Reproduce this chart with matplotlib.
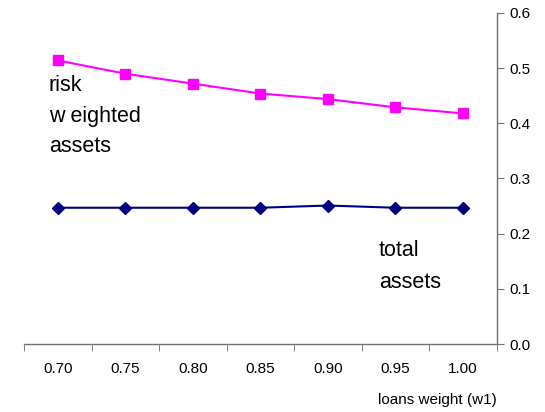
import matplotlib
matplotlib.use("Agg")
import matplotlib.pyplot as plt
import numpy as np

plt.rcParams['font.family'] = ['Liberation Sans', 'DejaVu Sans']

categories = ["0.70", "0.75", "0.80", "0.85", "0.90", "0.95", "1.00"]
risk_weighted = [0.514, 0.490, 0.472, 0.454, 0.444, 0.429, 0.418]
total_assets = [0.247, 0.247, 0.247, 0.247, 0.251, 0.247, 0.247]
y_ticks = [0.0, 0.1, 0.2, 0.3, 0.4, 0.5, 0.6]
label_risk = ["risk", "w eighted", "assets"]
label_total = ["total", "assets"]

fig = plt.figure(figsize=(5.45, 4.12), dpi=100)
ax = fig.add_axes([24/545, 1 - 344/412, (496.5 - 24)/545, (344 - 13)/412])

x = np.arange(len(categories))
ax.plot(x, risk_weighted, color='#FF00FF', marker='s', markersize=6.5, linewidth=1.5)
ax.plot(x, total_assets, color='#000080', marker='D', markersize=6, linewidth=1.5)

ax.set_xlim(-0.5, len(categories) - 0.5)
ax.set_ylim(0, 0.6)

ax.spines['left'].set_visible(False)
ax.spines['top'].set_visible(False)
for s in ('right', 'bottom'):
    ax.spines[s].set_color('#707070')
    ax.spines[s].set_linewidth(1.0)

ax.yaxis.tick_right()
ax.set_yticks(y_ticks)
ax.set_yticklabels([f"{v:.1f}" for v in y_ticks], fontsize=11)
ax.tick_params(axis='y', direction='out', length=5, color='#707070', pad=4)

ax.set_xticks(x)
ax.set_xticklabels(categories, fontsize=11)
ax.set_xticks(np.arange(len(categories) + 1) - 0.5, minor=True)
ax.tick_params(axis='x', which='major', length=0, pad=13)
ax.tick_params(axis='x', which='minor', direction='out', length=5, color='#707070')

for line, yb in zip(label_risk, [91, 122, 152]):
    fig.text(49/545, 1 - yb/412, line, fontsize=15.5, va='baseline', ha='left')
for line, yb in zip(label_total, [256, 288]):
    fig.text(379/545, 1 - yb/412, line, fontsize=15.5, va='baseline', ha='left')
fig.text(378/545, 1 - 404/412, "loans weight (w1)", fontsize=11, va='baseline', ha='left')

fig.savefig("out.png", dpi=100)
